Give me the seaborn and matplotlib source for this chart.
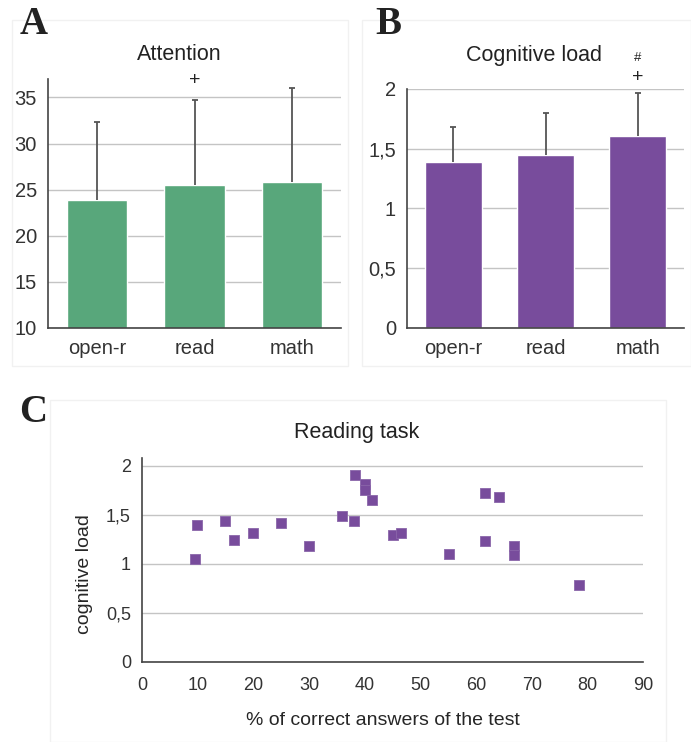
import numpy as np
import seaborn as sns
import matplotlib.pyplot as plt
from matplotlib.patches import Rectangle
from matplotlib.ticker import FixedLocator, FuncFormatter

# bar panels
tasks = ["open-r", "read", "math"]
attention_mean = [23.9, 25.5, 25.8]
attention_sd = [8.4, 9.2, 10.2]
load_mean = [1.39, 1.45, 1.61]
load_sd = [0.29, 0.35, 0.36]

# reading task scatter
pct_correct = [9.6, 9.9, 14.9, 16.5, 19.9, 24.9, 30.0, 35.9, 38.0, 38.3,
               40.0, 40.0, 41.3, 45.0, 46.5, 55.1, 61.7, 61.7, 64.2, 66.8,
               66.8, 78.5]
reading_load = [1.05, 1.40, 1.44, 1.245, 1.32, 1.415, 1.18, 1.49, 1.44, 1.91,
                1.82, 1.755, 1.65, 1.29, 1.32, 1.10, 1.72, 1.235, 1.68, 1.18,
                1.09, 0.79]

GREEN = "#58a77b"
PURPLE = "#784c9c"
AXIS = "#444444"
GRID = "#c4c4c4"
W, H = 691, 742

sns.set_theme(style="white")
plt.rcParams["font.family"] = ["Liberation Sans", "DejaVu Sans"]
plt.rcParams["text.color"] = "#222222"


def comma(v, pos=None):
    s = f"{v:g}"
    return s.replace(".", ",")


def px_axes(fig, left, top, right, bottom):
    return fig.add_axes([left / W, 1 - bottom / H, (right - left) / W, (bottom - top) / H])


def style_axes(ax, fs):
    for s in ["top", "right"]:
        ax.spines[s].set_visible(False)
    for s in ["left", "bottom"]:
        ax.spines[s].set_color(AXIS)
        ax.spines[s].set_linewidth(1.2)
    ax.yaxis.grid(True, color=GRID, linewidth=1.0)
    ax.xaxis.grid(False)
    ax.set_axisbelow(True)
    ax.tick_params(axis="both", which="both", direction="out", colors=AXIS,
                   labelcolor="#333333", labelsize=fs, length=5, width=1.1)
    ax.set_xlabel("")
    ax.set_ylabel("")


def bar_panel(ax, means, sds, color, ylim, yticks):
    sns.barplot(x=tasks, y=means, color=color, width=0.62, errorbar=None,
                saturation=1, ax=ax)
    x = np.arange(len(tasks))
    top = np.array(means) + np.array(sds)
    ax.vlines(x, means, top, color="#555555", linewidth=1.3, zorder=3)
    ax.plot(x, top, linestyle="none", marker="_", markersize=5,
            markeredgewidth=1.3, color="#555555", zorder=3)
    ax.set_xlim(-0.5, 2.5)
    ax.set_ylim(*ylim)
    ax.yaxis.set_major_locator(FixedLocator(yticks))
    ax.xaxis.set_major_locator(FixedLocator([0, 1, 2]))
    ax.xaxis.set_minor_locator(FixedLocator([-0.5, 0.5, 1.5, 2.5]))
    style_axes(ax, 14.5)
    ax.tick_params(axis="y", pad=3)
    ax.tick_params(axis="x", which="major", length=0, pad=8)
    ax.tick_params(axis="x", which="minor", length=6)


fig = plt.figure(figsize=(W / 100, H / 100), dpi=100)

# faint panel frames
for (l, t, r, b) in [(12, 20, 348, 366), (362, 20, 691, 366), (50, 400, 666, 742)]:
    fig.patches.append(Rectangle((l / W, 1 - b / H), (r - l) / W, (b - t) / H,
                                 transform=fig.transFigure, fill=False,
                                 edgecolor="#f1f1f1", linewidth=1.0))

# A: attention
axA = px_axes(fig, 48, 79, 341, 328)
bar_panel(axA, attention_mean, attention_sd, GREEN, (10, 37.0), [10, 15, 20, 25, 30, 35])
axA.text(1, 36.8, "+", ha="center", va="center", fontsize=14, clip_on=False)
fig.text(179 / W, 1 - 55 / H, "Attention", ha="center", va="center", fontsize=15.5)

# B: cognitive load
axB = px_axes(fig, 407, 89, 684, 328)
bar_panel(axB, load_mean, load_sd, PURPLE, (0, 2.0), [0, 0.5, 1, 1.5, 2])
axB.yaxis.set_major_formatter(FuncFormatter(comma))
axB.text(2, 2.095, "+", ha="center", va="center", fontsize=14, clip_on=False)
axB.text(2, 2.26, "#", ha="center", va="center", fontsize=9.5, clip_on=False)
fig.text(534 / W, 1 - 55 / H, "Cognitive load", ha="center", va="center", fontsize=15.5)

# C: reading task scatter
axC = px_axes(fig, 142, 458, 643, 662)
sns.scatterplot(x=pct_correct, y=reading_load, marker="s", s=62, color=PURPLE,
                edgecolor="#8a66aa", linewidth=0.6, ax=axC, zorder=3)
axC.set_xlim(0, 90)
axC.set_ylim(0, 2.08)
axC.xaxis.set_major_locator(FixedLocator(list(range(0, 91, 10))))
axC.yaxis.set_major_locator(FixedLocator([0, 0.5, 1, 1.5, 2]))
axC.yaxis.set_major_formatter(FuncFormatter(comma))
style_axes(axC, 13)
axC.tick_params(axis="x", pad=6)
axC.tick_params(axis="y", pad=3)
axC.set_ylabel("cognitive load", fontsize=14)
axC.set_xlabel("% of correct answers of the test", fontsize=14)
axC.yaxis.set_label_coords(-0.098, 0.43)
axC.xaxis.set_label_coords(0.481, -0.245)
fig.text(357 / W, 1 - 432 / H, "Reading task", ha="center", va="center", fontsize=15.5)

# panel letters
for letter, (lx, ly) in {"A": (34, 25), "B": (388, 25), "C": (33, 413)}.items():
    fig.text(lx / W, 1 - ly / H, letter, ha="center", va="center", fontsize=28,
             fontweight="bold", family=["Liberation Serif", "DejaVu Serif"])

fig.savefig("out.png", dpi=100)
